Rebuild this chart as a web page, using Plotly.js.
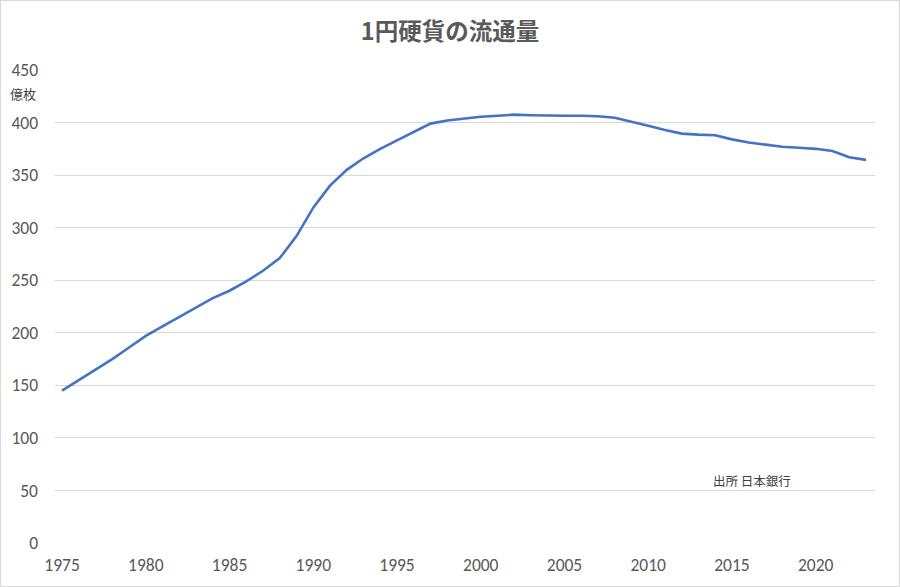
<!DOCTYPE html>
<html>
<head>
<meta charset="utf-8">
<script src="https://cdn.plot.ly/plotly-3.0.1.min.js"></script>
<style>
html,body{margin:0;padding:0;background:#fff;}
#chart{width:898px;height:585px;border:1px solid #d9d9d9;}
</style>
</head>
<body>
<div id="chart"></div>
<script>
const years = [1975,1976,1977,1978,1979,1980,1981,1982,1983,1984,1985,1986,1987,1988,1989,1990,1991,1992,1993,1994,1995,1996,1997,1998,1999,2000,2001,2002,2003,2004,2005,2006,2007,2008,2009,2010,2011,2012,2013,2014,2015,2016,2017,2018,2019,2020,2021,2022,2023];
const volume = [145,155,165,175,186,197,206,215,224,233,240,249,259,271,292,319,340,355,366,375,383,391,399,402,404,405.5,406.5,407.5,407,406.5,406.5,406.5,406,404.5,401,397,393,389.5,388.5,388,384,381,379,377,376,375,373,367,364.5];
const xTicks = [1975,1980,1985,1990,1995,2000,2005,2010,2015,2020];
const yTicks = [0,50,100,150,200,250,300,350,400,450];
const titleText = '1円硬貨の流通量';
const unitText = '億枚';
const sourceText = '出所 日本銀行';

const fontFam = 'Carlito, "Liberation Sans Narrow", "Noto Sans CJK JP", sans-serif';
const grey = '#595959';

Plotly.newPlot('chart', [{
  x: years, y: volume, type: 'scatter', mode: 'lines',
  line: {color: '#4472c4', width: 2.6}, hoverinfo: 'x+y'
}], {
  width: 898, height: 585,
  margin: {l: 54, r: 24, t: 69, b: 43},
  paper_bgcolor: '#fff', plot_bgcolor: '#fff',
  showlegend: false,
  title: {text: '<b>' + titleText + '</b>', x: 0.5, xanchor: 'center', y: 0.947, yanchor: 'middle',
          font: {family: '"Noto Sans CJK JP", sans-serif', size: 23.5, color: grey}},
  xaxis: {
    range: [1974.58, 2023.54], tickvals: xTicks, ticktext: xTicks.map(String),
    showgrid: false, zeroline: false, showline: false, ticks: '',
    ticklabelstandoff: 9,
    tickfont: {family: fontFam, size: 17.5, color: grey}
  },
  yaxis: {
    range: [0, 450], tickvals: yTicks, ticktext: yTicks.map(String),
    showgrid: true, gridcolor: '#d9d9d9', gridwidth: 1,
    zeroline: false, showline: false, ticks: '',
    ticklabelstandoff: 16,
    tickfont: {family: fontFam, size: 17.5, color: grey}
  },
  annotations: [
    {text: unitText, xref: 'paper', yref: 'paper', x: 0, y: 0.95, xanchor: 'right', yanchor: 'middle',
     xshift: -17, showarrow: false, font: {family: '"Noto Sans CJK JP", sans-serif', size: 13, color: '#404040'}},
    {text: sourceText, xref: 'x', yref: 'y', x: 2016.2, y: 59, xanchor: 'center', yanchor: 'middle',
     showarrow: false, font: {family: '"Noto Sans CJK JP", sans-serif', size: 12.5, color: '#404040'}}
  ]
}, {displayModeBar: false, staticPlot: true});
</script>
</body>
</html>
